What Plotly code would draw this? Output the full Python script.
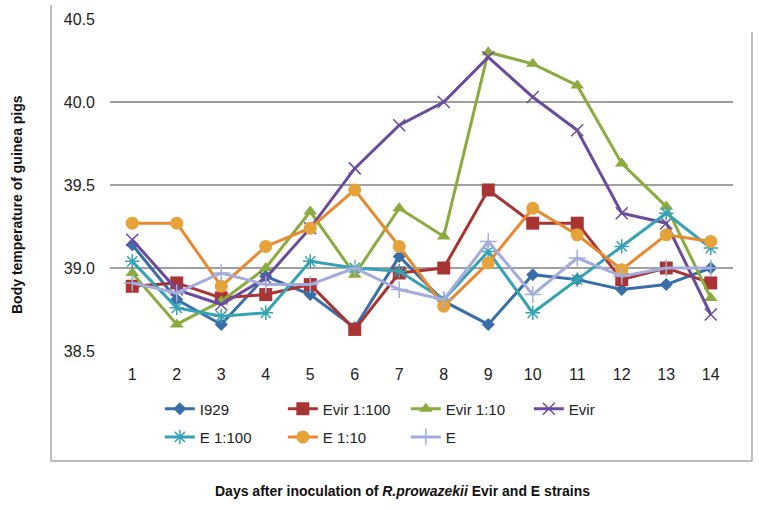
import plotly.graph_objects as go

days = list(range(1, 15))
series_names = ["I929", "Evir 1:100", "Evir 1:10", "Evir", "E 1:100", "E 1:10", "E"]
i929 = [39.14, 38.81, 38.66, 38.95, 38.84, 38.64, 39.07, 38.80, 38.66, 38.96, 38.93, 38.87, 38.90, 39.00]
evir_100 = [38.89, 38.91, 38.82, 38.84, 38.90, 38.63, 38.97, 39.00, 39.47, 39.27, 39.27, 38.93, 39.00, 38.91]
evir_10 = [38.97, 38.66, 38.80, 39.00, 39.34, 38.96, 39.36, 39.19, 40.30, 40.23, 40.10, 39.63, 39.37, 38.82]
evir = [39.17, 38.87, 38.78, 38.94, 39.24, 39.60, 39.86, 40.00, 40.27, 40.03, 39.83, 39.33, 39.27, 38.72]
e_100 = [39.04, 38.76, 38.71, 38.73, 39.04, 39.00, 38.98, 38.81, 39.10, 38.73, 38.93, 39.13, 39.33, 39.12]
e_10 = [39.27, 39.27, 38.89, 39.13, 39.24, 39.47, 39.13, 38.77, 39.03, 39.36, 39.20, 38.99, 39.20, 39.16]
e_plain = [38.91, 38.85, 38.97, 38.90, 38.90, 39.00, 38.87, 38.81, 39.16, 38.84, 39.06, 38.95, 39.00, 39.00]
y_ticks = [38.5, 39.0, 39.5, 40.0, 40.5]

values = [i929, evir_100, evir_10, evir, e_100, e_10, e_plain]
line_colors = ["#3A6EA8", "#A83434", "#8DAA3E", "#6A4C9C", "#35A3B4", "#E8892F", "#A3ACDB"]
marker_colors = ["#3A6EA8", "#A83434", "#8DAA3E", "#6A4C9C", "#35A3B4", "#E6A33A", "#A3ACDB"]
symbols = ["diamond", "square", "triangle-up", "x-thin", "asterisk-open", "circle", "cross-thin"]
sizes = [10, 13, 12, 12, 12, 13, 12]

fig = go.Figure()
for k, (name, vals) in enumerate(zip(series_names, values)):
    sym = symbols[k]
    thin = sym.endswith("thin") or sym.endswith("open")
    fig.add_trace(go.Scatter(
        x=days, y=vals, name=name, mode="lines+markers",
        line=dict(color=line_colors[k], width=3),
        marker=dict(symbol=sym, size=sizes[k], color=marker_colors[k],
                    line=dict(color=marker_colors[k], width=1.5 if thin else 0)),
        legend="legend" if k < 4 else "legend2",
    ))

fig.update_layout(
    width=759, height=510,
    margin=dict(l=110, r=26, t=19, b=159),
    paper_bgcolor="white", plot_bgcolor="white",
    font=dict(family="Liberation Sans, Arial, sans-serif", size=15, color="#222222"),
    showlegend=True,
    legend=dict(orientation="h", x=0.08, y=-0.125, xanchor="left", yanchor="top",
                entrywidth=78, entrywidthmode="pixels", font=dict(size=15),
                bgcolor="rgba(0,0,0,0)", traceorder="normal", itemwidth=30),
    legend2=dict(orientation="h", x=0.08, y=-0.21, xanchor="left", yanchor="top",
                 entrywidth=78, entrywidthmode="pixels", font=dict(size=15),
                 bgcolor="rgba(0,0,0,0)", traceorder="normal", itemwidth=30),
    xaxis=dict(range=[0.5, 14.5], tickmode="array", tickvals=days,
               ticktext=[str(d) for d in days], showgrid=False, zeroline=False,
               showline=False, ticks="", ticklabelstandoff=12,
               tickfont=dict(size=16)),
    yaxis=dict(range=[38.5, 40.5], tickmode="array", tickvals=y_ticks,
               ticktext=[f"{v:.1f}" for v in y_ticks], showgrid=True,
               gridcolor="#A0A0A0", gridwidth=1.5, zeroline=False, showline=False,
               ticks="", ticklabelstandoff=14, tickfont=dict(size=16)),
)

# outer frame lines (left, bottom, right)
frame = dict(color="#A8A8A8", width=1.5)
fig.add_shape(type="line", xref="paper", yref="paper",
              x0=-59/623, x1=-59/623, y0=(351-5)/332, y1=(351-461)/332, line=frame)
fig.add_shape(type="line", xref="paper", yref="paper",
              x0=-59/623, x1=(752-110)/623, y0=(351-461)/332, y1=(351-461)/332, line=frame)
fig.add_shape(type="line", xref="paper", yref="paper",
              x0=(752-110)/623, x1=(752-110)/623, y0=(351-32)/332, y1=(351-461)/332, line=frame)

fig.add_annotation(
    text="<b>Body temperature of guinea pigs</b>", textangle=-90,
    xref="paper", yref="paper", x=(17-110)/623, y=(351-205)/332,
    xanchor="center", yanchor="middle",
    showarrow=False, font=dict(size=14, color="#111111"))
fig.add_annotation(
    text="<b>Days after inoculation of <i>R.prowazekii</i> Evir and E strains</b>",
    xref="paper", yref="paper", x=(402-110)/623, y=(351-491)/332,
    xanchor="center", yanchor="middle",
    showarrow=False, font=dict(size=14, color="#111111"))

fig.write_html("out.html", config={"displayModeBar": False},
               post_script="document.body.style.margin='0px';")
